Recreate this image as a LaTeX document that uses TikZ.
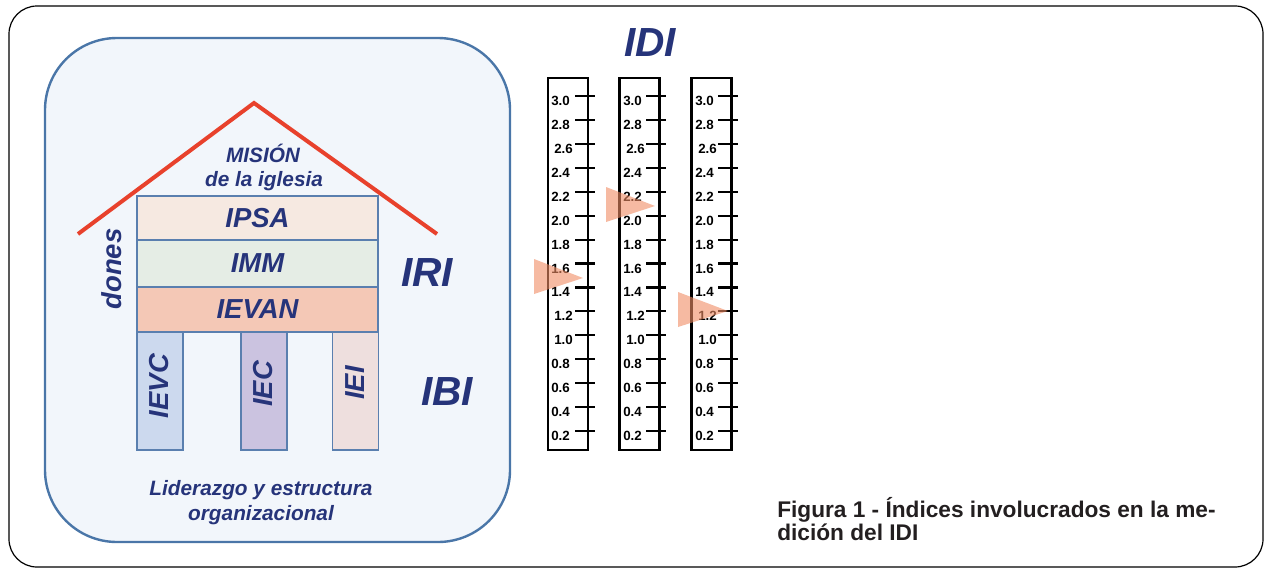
\documentclass[tikz,border=0pt]{standalone}
\usepackage{fontspec}
\setmainfont{Liberation Sans}
\definecolor{navyc}{RGB}{38,52,122}
\definecolor{framec}{RGB}{74,118,168}
\definecolor{boxc}{RGB}{90,127,175}
\definecolor{innerc}{RGB}{242,246,251}
\definecolor{ipsac}{RGB}{246,233,225}
\definecolor{immc}{RGB}{229,237,229}
\definecolor{ievanc}{RGB}{244,200,182}
\definecolor{ievcc}{RGB}{204,217,238}
\definecolor{iecc}{RGB}{203,195,224}
\definecolor{ieic}{RGB}{238,223,222}
\definecolor{roofc}{RGB}{232,65,44}
\definecolor{tric}{RGB}{240,140,100}
\definecolor{capc}{RGB}{35,31,32}
\begin{document}
\begin{tikzpicture}[x=0.75pt,y=-0.75pt,
  navy/.style={text=navyc, inner sep=0pt},
  band/.style={draw=boxc, line width=1.3pt, minimum width=180.75pt, inner sep=0pt,
    text=navyc, font=\fontsize{20.6}{24}\selectfont\bfseries\itshape},
  pillar/.style={draw=boxc, line width=1.3pt, minimum width=34.5pt, minimum height=88.5pt, inner sep=0pt},
  pillartext/.style={navy, rotate=90, font=\fontsize{20.6}{24}\selectfont\bfseries\itshape},
  big/.style={navy, anchor=base, font=\fontsize{30.5}{34}\selectfont\bfseries\itshape},
  mid/.style={navy, anchor=base, font=\fontsize{15.6}{18}\selectfont\bfseries\itshape},
  scalebox/.style={draw=black, line width=1.6pt, minimum width=30pt, minimum height=279pt, inner sep=0pt},
  tick/.style={line width=1.6pt},
  scalelab/.style={anchor=base west, inner sep=0pt, font=\fontsize{10}{12}\selectfont\bfseries},
  tri/.style={fill=tric, fill opacity=0.6},
  caption/.style={anchor=base west, inner sep=0pt, text=capc, font=\fontsize{17}{20}\selectfont\bfseries}]
\useasboundingbox (0,0) rectangle (1269,571);
% outer frame
\draw[line width=0.9pt, rounded corners=21pt] (9,6) rectangle (1263,567);
% inner box
\draw[framec, line width=1.8pt, fill=innerc, rounded corners=54pt] (45,38) rectangle (510,542);
% roof
\coordinate (roofL) at (78,234);
\coordinate (apex) at (254,103);
\coordinate (roofR) at (437,234);
\draw[roofc, line width=3pt] (roofL) -- (apex) -- (roofR);
\node[mid] (mision) at (263,162.7) {MISIÓN};
\node[mid] (iglesia) at (264,186.7) {de la iglesia};
% bands
\node[band, fill=ipsac, minimum height=33pt] (ipsa) at (257.5,218) {IPSA};
\node[band, fill=immc, minimum height=35.25pt] (imm) at (257.5,263.5) {IMM};
\node[band, fill=ievanc, minimum height=33.75pt] (ievan) at (257.5,309.5) {IEVAN};
% pillars
\node[pillar, fill=ievcc] (ievc) at (160,391) {};
\node[pillar, fill=iecc] (iec) at (264,391) {};
\node[pillar, fill=ieic] (iei) at (355.5,391) {};
\node[pillartext] (ievct) at (159,386) {IEVC};
\node[pillartext] (iect) at (263,384) {IEC};
\node[pillartext] (ieit) at (355,383) {IEI};
\node[pillartext] (dones) at (112,269) {dones};
\node[big] (iri) at (427,286.7) {IRI};
\node[big] (ibi) at (447,405) {IBI};
\node[mid] (lid1) at (261,495) {Liderazgo y estructura};
\node[mid] (lid2) at (261,520) {organizacional};
% IDI scales
\node[big] (idi) at (650,56.7) {IDI};
\node[scalebox] (s1) at (568,264) {};
\node[scalebox] (s2) at (639.5,264) {};
\node[scalebox] (s3) at (711.5,264) {};
\foreach \L/\R/\n in {548/588/1, 620/659/2, 692/731/3}{
  \foreach \v/\k/\s in {3.0/0/0, 2.8/1/0, 2.6/2/3, 2.4/3/0, 2.2/4/0, 2.0/5/0, 1.8/6/0,
      1.6/7/0, 1.4/8/0, 1.2/9/3, 1.0/10/3, 0.8/11/0, 0.6/12/0, 0.4/13/0, 0.2/14/0}{
    \draw[tick] (\R-13,96+\k*23.93) -- (\R+7,96+\k*23.93);
    \node[scalelab] (lab\n-\k) at (\L+3+\s,105.5+\k*23.93) {\v};
  }
}
% markers
\fill[tri] (534,259) -- (583,278) -- (534,294) -- cycle;
\fill[tri] (606,187) -- (655,206) -- (606,222) -- cycle;
\fill[tri] (678,292) -- (728,311) -- (678,327) -- cycle;
% caption
\node[caption] (cap1) at (777,517) {Figura 1 - Índices involucrados en la me-};
\node[caption] (cap2) at (777,540) {dición del IDI};
\end{tikzpicture}
\end{document}
